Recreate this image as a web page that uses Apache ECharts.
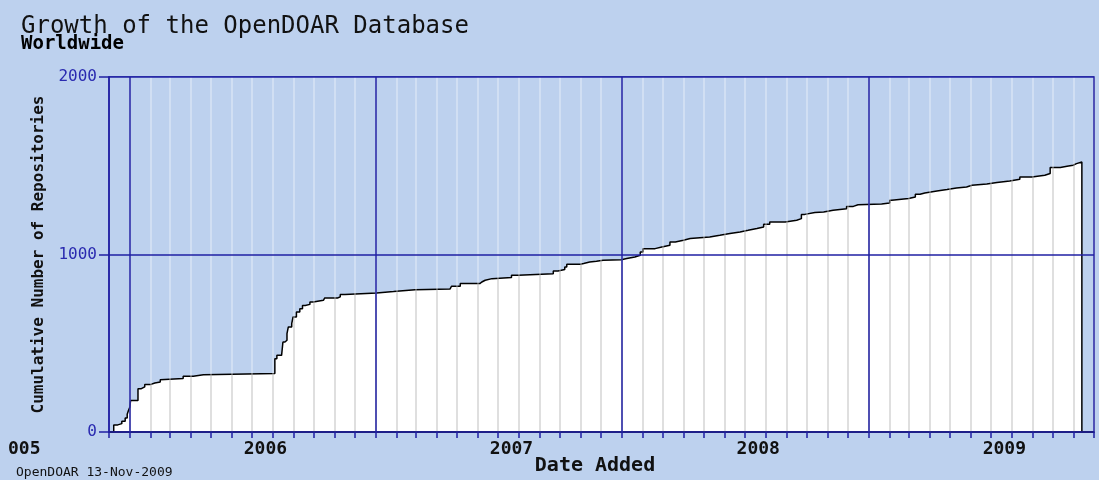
<!DOCTYPE html>
<html><head><meta charset="utf-8">
<script src="https://cdn.jsdelivr.net/npm/echarts@6/dist/echarts.min.js"></script>
<style>html,body{margin:0;padding:0;background:#bdd1ee}#c{width:1099px;height:480px}</style>
</head><body><div id="c"></div><script>
// Dates on which the cumulative count changed, and the new cumulative count
const dates = [
'2005-12-08','2005-12-14','2005-12-20','2005-12-25','2005-12-28','2005-12-30',
'2006-01-01','2006-01-02','2006-01-13','2006-01-18','2006-01-23','2006-01-31',
'2006-02-07','2006-02-15','2006-02-17','2006-03-21','2006-04-05','2006-04-20',
'2006-08-04','2006-08-07','2006-08-14','2006-08-16','2006-08-19','2006-08-22',
'2006-08-24','2006-08-29','2006-08-31','2006-09-05','2006-09-10','2006-09-14',
'2006-09-18','2006-09-25','2006-09-30','2006-10-15','2006-10-17','2006-11-05',
'2006-11-09','2006-11-16','2007-01-02','2007-01-27','2007-01-29','2007-02-28',
'2007-04-21','2007-04-23','2007-05-06','2007-06-04','2007-06-07','2007-06-12',
'2007-06-22','2007-07-21','2007-07-31','2007-09-21','2007-09-28','2007-10-08',
'2007-10-11','2007-10-31','2007-11-05','2007-11-14','2007-11-24','2007-12-04',
'2007-12-31','2008-01-08','2008-01-20','2008-01-28','2008-02-01','2008-02-19',
'2008-02-29','2008-03-12','2008-03-20','2008-04-01','2008-04-11','2008-05-10',
'2008-05-25','2008-06-09','2008-06-24','2008-07-06','2008-07-19','2008-07-29',
'2008-08-07','2008-08-30','2008-09-16','2008-09-23','2008-09-28','2008-10-13',
'2008-10-26','2008-11-09','2008-11-29','2008-12-09','2008-12-16','2009-01-20',
'2009-02-01','2009-02-04','2009-03-01','2009-03-11','2009-03-18','2009-03-25',
'2009-04-12','2009-04-27','2009-05-11','2009-05-26','2009-06-03','2009-06-25',
'2009-07-10','2009-07-29','2009-08-13','2009-08-31','2009-09-19','2009-09-27',
'2009-10-12','2009-10-22','2009-10-31','2009-11-05'
];
const counts = [
40,47,60,79,100,122,
141,178,244,254,267,276,
282,295,301,314,323,329,
413,432,441,507,517,554,
592,611,648,676,695,713,
719,732,742,748,755,761,
774,783,791,795,802,806,
811,821,836,845,855,864,
870,883,892,907,915,930,
945,949,958,962,967,971,
977,986,996,1014,1033,1042,
1052,1071,1080,1090,1099,1108,
1118,1127,1136,1146,1155,1170,
1183,1193,1202,1226,1236,1240,
1249,1258,1271,1280,1284,1290,
1305,1315,1324,1340,1347,1358,
1366,1375,1380,1390,1397,1405,
1414,1424,1437,1446,1456,1490,
1497,1503,1512,1521
];
const reportDate = '2009-11-13';
const xMin = '2005-12-01', xMax = '2009-12-01';
const yMin = 0, yMax = 2000, yStep = 1000;
const titleText = 'Growth of the OpenDOAR Database';
const subText = 'Worldwide';
const footText = 'OpenDOAR 13-Nov-2009';
const xName = 'Date Added';
const yName = 'Cumulative Number of Repositories';
const cutYearLabel = '005';

const DAY = 86400000;
const BLUE = '#1f1fa3';
const SKY = '#bdd1ee';
const MONO = '"DejaVu Sans Mono", monospace';

// step curve; padded with zero at the ends so the fill above the curve spans the whole plot
const seriesData = [[xMin, 0], [dates[0], 0]].concat(
  dates.map((d, i) => [d, counts[i]]), [[reportDate, 0], [xMax, 0]]);

const monthAxis = {type: 'time', min: xMin, max: xMax, splitNumber: 48, minInterval: 28 * DAY, maxInterval: 30 * DAY};

const chart = echarts.init(document.getElementById('c'), null, {renderer: 'canvas'});
chart.setOption({
  backgroundColor: SKY,
  animation: false,
  title: [
    {text: titleText, left: 21, top: 15, padding: 0,
     textStyle: {fontFamily: MONO, fontWeight: 'normal', fontSize: 24, color: '#111'}},
    {text: subText, left: 21, top: 35, padding: 0,
     textStyle: {fontFamily: MONO, fontWeight: 'bold', fontSize: 19, color: '#000'}},
    {text: footText, left: 16, top: 466, padding: 0,
     textStyle: {fontFamily: MONO, fontWeight: 'normal', fontSize: 13, color: '#111'}},
    {text: cutYearLabel, left: 8, top: 440, padding: 0,
     textStyle: {fontFamily: MONO, fontWeight: 'bold', fontSize: 18, color: '#111'}}
  ],
  grid: {left: 109, right: 5, top: 77, bottom: 48, show: true, borderColor: BLUE, borderWidth: 1.5,
         backgroundColor: '#ffffff', outerBoundsMode: 'none', containLabel: false},
  xAxis: [
    Object.assign({}, monthAxis, {z: 1,
      axisLine: {show: false}, axisTick: {show: false}, axisLabel: {show: false},
      splitLine: {show: true, lineStyle: {color: '#d2d2d2', width: 2}}}),
    {type: 'time', min: xMin, max: xMax, z: 6, position: 'top',
     splitNumber: 4, minInterval: 365 * DAY,
     axisLine: {show: false}, axisTick: {show: false}, axisLabel: {show: false},
     splitLine: {show: true, lineStyle: {color: BLUE, width: 1.5}}},
    Object.assign({}, monthAxis, {z: 5, position: 'bottom',
     axisLine: {show: true, lineStyle: {color: '#111', width: 1.5}},
     axisTick: {show: true, inside: false, length: 6, lineStyle: {color: BLUE, width: 1.5}},
     splitLine: {show: true, lineStyle: {color: 'rgba(255,255,255,0.3)', width: 2}},
     axisLabel: {show: true, margin: 8, hideOverlap: false,
       fontFamily: MONO, fontWeight: 'bold', fontSize: 18, color: '#111',
       padding: [0, 0, 0, 27],
       formatter: function (v) { const d = new Date(v); return d.getMonth() === 6 && d.getDate() === 1 ? String(d.getFullYear()) : ''; }},
     name: xName, nameLocation: 'middle', nameGap: 24, nameMoveOverlap: false,
     nameTextStyle: {fontFamily: MONO, fontWeight: 'bold', fontSize: 20, color: '#111', padding: [0, 13, 0, 0]}})
  ],
  yAxis: {type: 'value', min: yMin, max: yMax, interval: yStep, z: 6,
    axisLine: {show: true, lineStyle: {color: BLUE, width: 1.5}},
    axisTick: {show: true, inside: false, length: 10, lineStyle: {color: BLUE, width: 1.5}},
    splitLine: {show: true, lineStyle: {color: BLUE, width: 1.5}},
    axisLabel: {margin: 12, fontFamily: MONO, fontSize: 16, color: '#2a2ab0', formatter: v => String(v)},
    name: yName, nameLocation: 'middle', nameGap: 62, nameRotate: 90, nameMoveOverlap: false,
    nameTextStyle: {fontFamily: MONO, fontWeight: 'bold', fontSize: 16, color: '#111'}
  },
  series: [{
    type: 'line', step: 'end', xAxisIndex: 2, yAxisIndex: 0, z: 3,
    data: seriesData, showSymbol: false, symbol: 'none',
    lineStyle: {color: '#000', width: 1.5},
    areaStyle: {color: SKY, opacity: 1, origin: 'end'}
  }]
});
</script></body></html>
